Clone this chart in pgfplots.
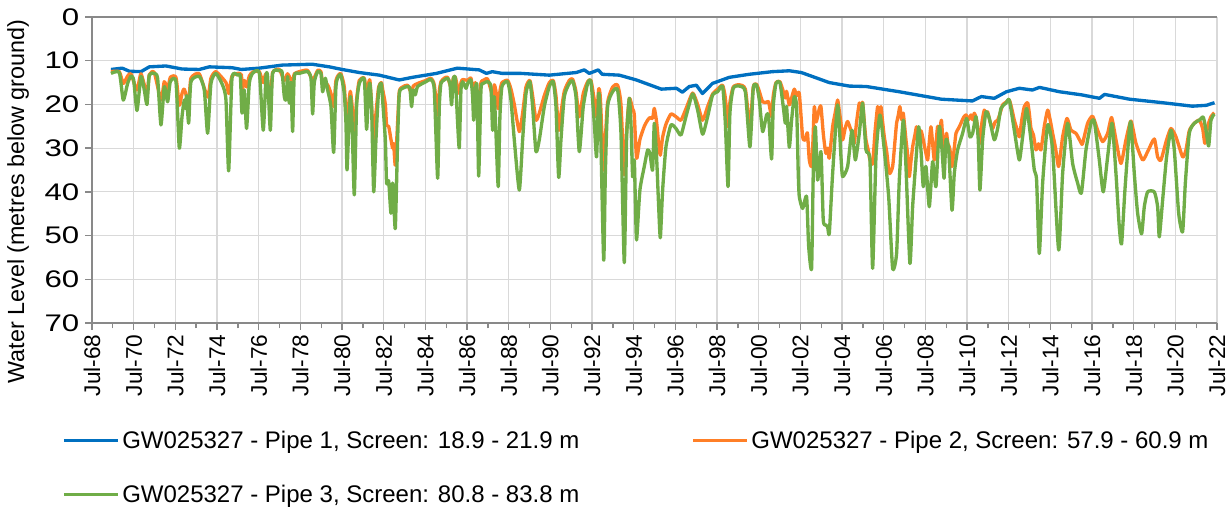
\documentclass[border=0pt]{standalone}
\usepackage{pgfplots}
\pgfplotsset{compat=1.18}
\usepackage{fontspec}
\setmainfont{Liberation Sans}
\definecolor{pblue}{RGB}{0,112,192}
\definecolor{porange}{RGB}{255,127,39}
\definecolor{pgreen}{RGB}{112,173,71}
\definecolor{axgray}{RGB}{137,137,137}
\definecolor{grgray}{RGB}{217,217,217}
\begin{document}
\begin{tikzpicture}
\path[use as bounding box] (-69pt,-144pt) rectangle (854.25pt,242.25pt);
\begin{axis}[
  scale only axis, width=843.75pt, height=229.5pt,
  xmin=1968.5, xmax=2022.5, ymin=0, ymax=70, y dir=reverse,
  axis y line*=left,
  xtick={1968.5,1970.5,1972.5,1974.5,1976.5,1978.5,1980.5,1982.5,1984.5,1986.5,1988.5,1990.5,1992.5,1994.5,1996.5,1998.5,2000.5,2002.5,2004.5,2006.5,2008.5,2010.5,2012.5,2014.5,2016.5,2018.5,2020.5,2022.5},
  xticklabels={Jul-68,Jul-70,Jul-72,Jul-74,Jul-76,Jul-78,Jul-80,Jul-82,Jul-84,Jul-86,Jul-88,Jul-90,Jul-92,Jul-94,Jul-96,Jul-98,Jul-00,Jul-02,Jul-04,Jul-06,Jul-08,Jul-10,Jul-12,Jul-14,Jul-16,Jul-18,Jul-20,Jul-22},
  minor x tick num=1,
  ytick={0,10,20,30,40,50,60,70},
  /pgf/number format/assume math mode=true,
  tick align=outside, major tick length=5pt, minor tick length=4pt,
  tick style={axgray, line width=1pt},
  xtick pos=bottom, ytick pos=left,
  axis line style={axgray, line width=1.6pt},
  grid=major, major grid style={grgray, line width=0.9pt},
  x tick label style={rotate=90, anchor=east, font=\fontsize{17}{19}\selectfont},
  y tick label style={font=\fontsize{18}{20}\selectfont, xscale=1.3},
  ylabel={Water Level (metres below ground)},
  ylabel style={at={(axis description cs:-0.0658,0.397)}, anchor=center, font=\fontsize{17.5}{20}\selectfont},
  legend style={draw=none, fill=none, at={(axis description cs:-0.02667,-0.347)}, anchor=north west,
    font=\fontsize{18}{21}\selectfont, inner sep=0pt, row sep=24pt, nodes={inner sep=1pt},
    /tikz/every odd column/.append style={column sep=1pt},
    /tikz/every even column/.append style={column sep=83pt}},
  legend columns=2, legend cell align=left,
  legend image code/.code={\draw[#1] (0pt,0pt) -- (40.5pt,0pt);},
  every axis plot/.append style={line width=2.5pt, line join=round},
]
\addplot[pblue] table {
1969.41 12.0
1969.95 11.7
1970.29 12.4
1970.85 12.5
1971.25 11.4
1972.05 11.2
1972.83 11.9
1973.65 12.0
1974.13 11.4
1975.23 11.6
1975.67 12.0
1976.53 11.7
1977.63 11.0
1979.07 10.8
1979.89 11.4
1980.51 12.0
1981.33 12.7
1982.29 13.3
1983.25 14.4
1983.88 13.8
1985.03 12.9
1986.04 11.7
1987.09 12.1
1987.43 12.9
1987.71 12.5
1988.19 12.9
1989.10 12.9
1990.45 13.3
1991.74 12.7
1992.13 12.1
1992.37 12.9
1992.80 12.1
1992.99 13.1
1993.81 13.3
1994.63 14.4
1995.83 16.5
1996.55 16.3
1996.84 17.2
1997.17 15.9
1997.51 15.6
1997.80 17.5
1998.28 15.2
1999.09 13.8
2000.05 13.1
2001.16 12.5
2001.97 12.3
2002.55 12.7
2003.89 15.0
2004.85 15.8
2005.67 15.9
2007.25 17.1
2009.27 18.8
2009.99 19.0
2010.76 19.2
2011.19 18.2
2011.81 18.6
2012.39 17.1
2013.01 16.3
2013.64 16.7
2013.98 16.1
2014.94 17.1
2015.99 17.8
2016.86 18.6
2017.10 17.7
2018.30 18.8
2019.88 19.6
2021.32 20.4
2021.99 20.2
2022.38 19.6
};
\addlegendentry{GW025327 - Pipe 1, Screen: 18.9 - 21.9 m}
\addplot[porange, smooth, tension=0.35] table {
1969.41 12.5
1969.81 12.5
1970.00 15.2
1970.21 13.5
1970.37 13.0
1970.66 16.7
1970.85 13.0
1971.14 17.5
1971.25 13.2
1971.49 12.7
1971.81 19.0
1971.97 14.8
1972.13 16.5
1972.26 13.8
1972.53 13.8
1972.69 20.2
1972.82 17.5
1972.93 16.5
1973.14 19.5
1973.25 14.0
1973.65 13.0
1974.05 18.3
1974.21 14.0
1974.45 12.5
1974.93 15.0
1975.06 17.5
1975.22 13.5
1975.49 12.9
1975.67 13.2
1975.70 16.7
1975.81 14.5
1975.92 16.0
1976.05 13.5
1976.21 12.6
1976.53 12.5
1976.72 15.0
1976.85 13.0
1977.06 18.6
1977.17 12.7
1977.49 12.0
1977.73 14.5
1977.89 13.0
1978.13 15.0
1978.21 13.0
1978.45 12.5
1978.85 12.2
1979.09 14.5
1979.33 12.2
1979.49 12.5
1979.57 15.0
1979.81 15.5
1979.97 17.5
1980.10 20.5
1980.21 14.5
1980.34 13.2
1980.45 13.0
1980.61 16.0
1980.74 25.1
1980.82 20.0
1980.90 17.0
1980.98 20.0
1981.09 27.4
1981.20 19.0
1981.33 14.5
1981.57 14.0
1981.68 17.5
1981.84 14.5
1982.02 27.8
1982.13 22.0
1982.26 16.0
1982.39 15.0
1982.45 16.5
1982.58 20.0
1982.64 24.7
1982.74 25.0
1982.85 28.0
1982.93 30.0
1982.98 29.0
1983.06 33.9
1983.17 24.0
1983.25 17.0
1983.41 16.0
1983.65 15.6
1983.84 17.5
1983.92 15.8
1984.13 15.2
1984.53 14.5
1984.77 14.0
1984.93 15.5
1985.09 22.4
1985.17 17.0
1985.25 14.8
1985.41 14.0
1985.57 13.8
1985.76 16.5
1985.84 14.0
1985.94 13.8
1986.13 17.5
1986.21 15.0
1986.29 14.3
1986.53 14.5
1986.69 14.0
1986.82 17.5
1986.90 15.0
1987.06 20.0
1987.17 15.0
1987.28 14.5
1987.49 14.2
1987.73 18.0
1987.81 15.5
1987.89 17.0
1988.00 21.0
1988.08 17.0
1988.18 15.0
1988.45 14.5
1988.61 16.5
1988.77 20.0
1989.01 26.2
1989.17 22.0
1989.33 16.0
1989.52 14.5
1989.65 18.0
1989.81 23.6
1989.97 22.0
1990.21 18.0
1990.45 15.0
1990.64 14.5
1990.77 18.0
1990.90 25.9
1991.01 22.0
1991.17 17.0
1991.41 14.5
1991.57 14.2
1991.73 17.0
1991.89 22.8
1992.08 17.5
1992.29 14.8
1992.45 14.5
1992.61 19.0
1992.72 22.8
1992.82 16.5
1992.90 18.5
1993.06 35.0
1993.14 28.0
1993.25 19.5
1993.49 16.0
1993.73 15.6
1993.89 20.0
1994.05 36.1
1994.16 26.0
1994.29 18.6
1994.45 21.0
1994.53 22.4
1994.64 32.3
1994.80 28.0
1995.01 25.0
1995.17 23.6
1995.28 23.0
1995.41 23.2
1995.49 20.9
1995.60 24.0
1995.70 29.0
1995.78 31.6
1995.89 27.5
1996.05 24.5
1996.29 22.2
1996.53 22.8
1996.77 23.6
1997.01 21.0
1997.33 17.4
1997.57 20.0
1997.81 23.6
1998.05 20.5
1998.29 17.6
1998.53 16.5
1998.77 15.6
1998.90 18.5
1999.03 25.1
1999.12 19.5
1999.28 16.0
1999.57 15.5
1999.86 16.5
2000.08 25.0
2000.24 16.0
2000.40 15.4
2000.53 17.0
2000.69 19.4
2000.88 19.5
2000.98 19.4
2001.12 22.8
2001.20 18.0
2001.33 15.0
2001.52 14.8
2001.68 17.0
2001.78 18.5
2001.84 17.0
2001.97 20.1
2002.08 18.5
2002.21 16.5
2002.32 18.0
2002.45 17.5
2002.61 27.4
2002.74 28.1
2002.84 26.5
2002.93 32.7
2003.04 34.2
2003.10 29.0
2003.17 20.5
2003.25 24.0
2003.33 22.8
2003.41 21.0
2003.49 20.5
2003.60 26.6
2003.67 29.5
2003.73 31.2
2003.81 30.0
2003.89 32.3
2004.05 25.1
2004.17 22.0
2004.29 19.0
2004.37 21.5
2004.45 24.3
2004.53 28.1
2004.65 25.5
2004.77 23.9
2004.93 25.9
2005.01 27.0
2005.09 28.9
2005.20 24.0
2005.33 19.7
2005.41 20.5
2005.49 19.5
2005.57 24.0
2005.65 28.1
2005.76 30.5
2005.84 32.7
2005.97 33.5
2006.09 26.0
2006.21 20.5
2006.29 22.5
2006.37 20.5
2006.45 24.0
2006.53 27.4
2006.65 31.0
2006.77 35.8
2006.93 34.2
2007.04 28.5
2007.12 24.3
2007.20 22.5
2007.28 20.5
2007.36 23.5
2007.44 22.0
2007.57 28.1
2007.65 31.5
2007.73 36.5
2007.81 33.0
2007.89 29.7
2008.00 27.0
2008.08 25.1
2008.14 28.5
2008.21 28.9
2008.29 26.0
2008.40 28.1
2008.50 30.5
2008.61 32.7
2008.69 28.5
2008.77 25.1
2008.85 29.0
2008.93 32.7
2009.01 29.0
2009.09 25.0
2009.17 26.5
2009.27 23.6
2009.33 27.5
2009.40 32.0
2009.46 28.5
2009.52 26.6
2009.58 29.0
2009.65 29.7
2009.72 31.5
2009.78 34.2
2009.89 30.0
2009.97 26.6
2010.09 25.5
2010.21 24.3
2010.33 23.0
2010.45 22.4
2010.57 23.5
2010.69 22.4
2010.77 23.5
2010.85 22.0
2010.93 23.0
2011.01 25.1
2011.12 28.9
2011.22 24.0
2011.33 21.3
2011.41 22.5
2011.49 21.7
2011.61 24.0
2011.73 25.5
2011.85 24.0
2011.97 23.6
2012.09 22.0
2012.21 20.1
2012.37 19.5
2012.53 19.0
2012.65 21.0
2012.77 23.6
2012.89 25.5
2013.01 27.4
2013.13 23.5
2013.25 20.5
2013.41 19.6
2013.49 22.0
2013.57 25.5
2013.69 27.0
2013.81 30.4
2013.93 29.0
2014.05 30.4
2014.21 25.0
2014.37 21.3
2014.49 23.5
2014.61 26.6
2014.75 30.0
2014.90 34.2
2015.09 27.4
2015.30 23.2
2015.49 25.9
2015.73 26.6
2015.99 28.9
2016.05 28.9
2016.29 24.3
2016.53 22.7
2016.77 25.9
2017.01 28.5
2017.25 26.6
2017.44 23.0
2017.65 28.1
2017.89 33.5
2018.13 28.1
2018.37 23.8
2018.61 28.9
2018.93 32.7
2019.17 30.8
2019.49 27.9
2019.65 32.0
2019.81 32.7
2020.08 28.1
2020.29 25.5
2020.53 27.4
2020.85 32.0
2021.01 30.4
2021.17 26.0
2021.41 24.3
2021.65 23.6
2021.81 25.5
2021.92 28.9
2022.05 25.0
2022.21 22.8
2022.37 21.9
};
\addlegendentry{GW025327 - Pipe 2, Screen: 57.9 - 60.9 m}
\addplot[pgreen, smooth, tension=0.35] table {
1969.41 12.9
1969.81 12.7
1970.00 19.0
1970.21 15.2
1970.37 13.5
1970.50 14.4
1970.66 21.4
1970.85 13.6
1971.01 16.7
1971.14 20.0
1971.25 13.3
1971.49 12.9
1971.65 14.0
1971.81 24.7
1971.97 15.9
1972.13 19.4
1972.26 14.8
1972.53 14.8
1972.69 30.0
1972.82 22.8
1972.93 19.0
1973.01 21.0
1973.04 18.0
1973.14 24.3
1973.25 14.8
1973.65 13.6
1973.89 16.7
1974.05 26.6
1974.21 15.2
1974.45 12.9
1974.77 15.6
1974.93 19.0
1975.06 35.2
1975.22 14.0
1975.49 13.3
1975.62 13.6
1975.70 22.0
1975.81 16.7
1975.92 25.5
1976.05 15.2
1976.21 12.9
1976.53 12.8
1976.72 25.9
1976.85 13.6
1976.93 13.6
1977.06 25.9
1977.17 12.9
1977.49 12.3
1977.62 12.5
1977.73 18.2
1977.81 19.0
1977.89 13.6
1977.97 19.7
1978.05 15.0
1978.13 26.2
1978.21 13.6
1978.45 12.9
1978.85 12.5
1979.01 14.0
1979.09 22.2
1979.17 15.0
1979.33 12.5
1979.49 12.9
1979.57 17.1
1979.70 14.0
1979.81 16.7
1979.97 20.5
1980.10 31.0
1980.21 15.9
1980.34 13.5
1980.45 13.3
1980.61 17.5
1980.69 24.3
1980.74 35.0
1980.82 25.9
1980.90 18.2
1980.98 23.6
1981.09 40.7
1981.20 20.5
1981.33 15.2
1981.57 14.3
1981.68 25.7
1981.78 16.7
1981.84 15.2
1981.92 20.5
1982.02 40.0
1982.13 28.1
1982.26 16.7
1982.39 15.2
1982.45 19.0
1982.58 28.1
1982.64 38.0
1982.74 37.5
1982.85 44.9
1982.93 38.0
1982.98 41.5
1983.06 48.3
1983.17 28.1
1983.25 17.5
1983.41 16.3
1983.65 15.9
1983.76 16.3
1983.84 20.5
1983.92 16.7
1984.02 17.8
1984.13 15.9
1984.53 14.8
1984.77 14.3
1984.93 16.7
1985.09 36.9
1985.17 20.5
1985.25 15.2
1985.41 14.4
1985.57 14.0
1985.68 15.2
1985.76 20.1
1985.84 14.3
1985.94 14.0
1986.05 24.3
1986.13 29.9
1986.21 16.7
1986.29 14.8
1986.45 16.3
1986.53 15.2
1986.69 14.4
1986.77 18.2
1986.82 23.6
1986.90 16.7
1986.98 16.0
1987.06 36.4
1987.17 16.7
1987.28 15.2
1987.49 14.8
1987.65 16.0
1987.73 25.9
1987.81 18.2
1987.89 26.6
1988.00 38.8
1988.08 22.8
1988.18 15.9
1988.45 14.8
1988.61 19.0
1988.77 28.1
1989.01 39.6
1989.17 28.1
1989.33 17.5
1989.52 14.8
1989.65 20.5
1989.81 30.8
1989.97 28.1
1990.21 20.5
1990.45 15.9
1990.64 14.8
1990.77 20.5
1990.90 36.7
1991.01 28.1
1991.17 18.2
1991.41 15.2
1991.57 14.6
1991.73 18.2
1991.89 30.8
1992.08 20.5
1992.29 15.2
1992.45 14.8
1992.61 24.3
1992.72 32.0
1992.82 17.5
1992.90 22.8
1993.06 55.6
1993.14 35.8
1993.25 20.5
1993.49 17.1
1993.73 16.7
1993.89 26.6
1994.05 56.2
1994.16 28.1
1994.29 18.6
1994.37 24.3
1994.45 36.5
1994.53 32.7
1994.58 41.9
1994.64 51.0
1994.80 39.6
1995.01 34.2
1995.17 30.4
1995.28 31.2
1995.41 35.0
1995.49 24.3
1995.60 32.0
1995.70 43.4
1995.78 50.5
1995.89 39.6
1996.05 29.7
1996.29 24.7
1996.53 25.5
1996.77 27.0
1997.01 22.8
1997.33 17.6
1997.57 21.3
1997.81 26.8
1998.05 22.8
1998.29 17.8
1998.53 17.1
1998.77 15.9
1998.90 24.3
1999.03 38.8
1999.12 22.0
1999.28 16.3
1999.57 15.8
1999.86 17.1
2000.08 29.7
2000.24 16.3
2000.40 15.6
2000.53 19.0
2000.69 26.2
2000.88 22.4
2000.98 22.8
2001.12 32.5
2001.20 20.5
2001.33 15.2
2001.52 15.0
2001.68 20.5
2001.78 24.3
2001.84 20.5
2001.97 29.8
2002.08 23.6
2002.21 18.2
2002.32 20.5
2002.40 35.8
2002.45 41.1
2002.61 43.8
2002.80 41.1
2002.90 52.5
2003.04 57.5
2003.12 35.8
2003.22 25.1
2003.33 37.3
2003.49 30.8
2003.60 46.4
2003.73 47.6
2003.81 48.0
2003.89 49.5
2004.05 35.8
2004.29 20.1
2004.45 32.0
2004.53 36.5
2004.77 34.2
2004.98 25.9
2005.14 32.7
2005.33 26.6
2005.49 19.7
2005.65 30.4
2005.84 32.7
2005.97 57.5
2006.13 32.0
2006.32 22.4
2006.53 30.4
2006.74 41.1
2006.93 57.5
2007.12 54.1
2007.25 37.3
2007.44 23.6
2007.57 34.2
2007.76 56.4
2007.89 43.4
2008.05 32.7
2008.18 25.1
2008.29 30.4
2008.40 38.8
2008.53 34.2
2008.69 43.4
2008.85 33.1
2009.01 38.8
2009.17 25.1
2009.30 30.4
2009.40 36.9
2009.49 28.1
2009.62 30.4
2009.78 44.2
2009.89 35.8
2010.05 30.4
2010.29 26.6
2010.48 23.2
2010.64 27.4
2010.77 26.6
2010.93 22.8
2011.04 28.1
2011.12 39.6
2011.25 28.1
2011.41 21.7
2011.57 23.2
2011.81 28.1
2011.97 25.5
2012.13 20.9
2012.37 19.7
2012.53 19.0
2012.77 25.9
2013.01 32.7
2013.17 27.4
2013.36 20.9
2013.57 28.1
2013.73 35.0
2013.84 37.3
2013.97 54.1
2014.13 38.0
2014.37 24.7
2014.61 30.4
2014.90 53.3
2015.09 35.8
2015.33 24.3
2015.57 33.5
2015.81 38.0
2015.99 40.3
2016.21 30.4
2016.45 24.3
2016.61 23.9
2016.85 32.7
2017.04 40.0
2017.25 32.0
2017.46 24.3
2017.65 35.8
2017.81 48.0
2017.92 51.9
2018.08 39.6
2018.29 25.9
2018.37 24.3
2018.53 35.8
2018.69 44.9
2018.88 49.6
2019.01 43.4
2019.17 40.0
2019.49 40.0
2019.65 43.4
2019.73 50.3
2019.89 41.9
2020.08 32.0
2020.29 25.9
2020.45 30.4
2020.66 44.9
2020.85 49.1
2020.98 38.0
2021.17 26.6
2021.41 24.3
2021.65 23.6
2021.84 22.9
2021.97 25.9
2022.10 29.5
2022.21 23.6
2022.37 22.2
};
\addlegendentry{GW025327 - Pipe 3, Screen: 80.8 - 83.8 m}
\end{axis}
\end{tikzpicture}
\end{document}
